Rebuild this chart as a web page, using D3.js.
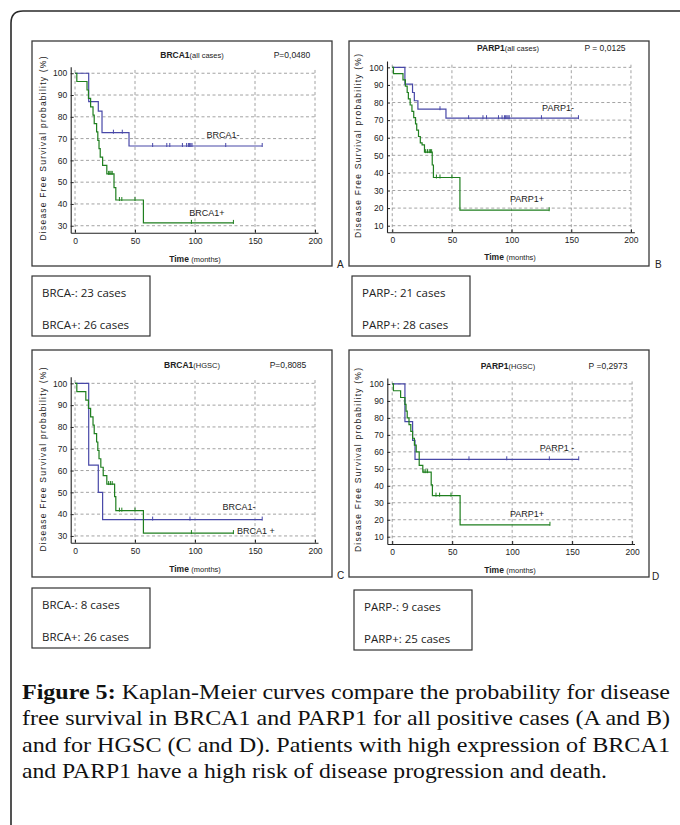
<!DOCTYPE html>
<meta charset="utf-8">
<script src="https://d3js.org/d3.v7.min.js"></script>
<style>
  body { margin: 0; background: #fff; }
  .narrow { font-family: "Liberation Sans Narrow", "Arial Narrow", "Liberation Sans", Arial, sans-serif; font-stretch: condensed; }
</style>
<div id="fig"></div>
<script>

// ---- data: [months, % disease free] at each step ----
// A: BRCA1 (all cases)
var brcaAllNeg = [[0,100],[11.4,87],[19.4,82.6],[22.5,72.7],[45,66.6],[156,66.6]];
var brcaAllNegCens = [32, 39.4, 64.7, 76.5, 79, 89.5, 93, 94.5, 95.5, 96.5, 97.5, 125.6, 156];
var brcaAllPos = [[0,100],[1.5,96.2],[10,92.3],[11.2,88.5],[13,84.6],[15,80.8],[16,76.9],[18,73.1],[19,69.2],[20,65.4],[21,61.5],[23,57.7],[26.5,53.8],[32.5,47.5],[34,41.8],[57,31.3],[132,31.3]];
var brcaAllPosCens = [28, 29, 30, 31, 37, 39, 50, 97, 132];
// B: PARP1 (all cases)
var parpAllNeg = [[0,100],[10.6,90.5],[17,85.7],[18.5,81],[21.5,76.2],[45,71.1],[156,71.1]];
var parpAllNegCens = [40, 64, 76, 79, 89, 92, 94, 95, 96, 97, 98, 125, 156];
var parpAllPos = [[0,100],[1,96.4],[9,92.9],[11,89.3],[12.5,85.7],[13.5,82.1],[15,78.6],[16.5,75],[18,71.4],[19.5,67.9],[20.5,64.3],[22,60.7],[23.5,57.1],[25,55.9],[27,51.8],[33.5,44.5],[34.5,37.4],[56.7,18.8],[131.5,18.8]];
var parpAllPosCens = [28, 29.5, 31, 32, 33, 37, 40, 50, 131.5];
// C: BRCA1 (HGSC)
var brcaHgNeg = [[0,100],[11.4,62.5],[19.4,50],[23,37.5],[156,37.5]];
var brcaHgNegCens = [64.7, 95.8, 156];
var brcaHgPos = [[0,100],[1.5,96.2],[9,92.3],[11.2,88.5],[13,84.6],[15,80.8],[16,76.9],[18,73.1],[19,69.2],[20,65.4],[21.5,61.5],[23.5,57.7],[26.5,53.8],[33,48],[34,41.6],[57,31.3],[132,31.3]];
var brcaHgPosCens = [28, 29.5, 31, 37, 39, 50, 97, 132];
// D: PARP1 (HGSC)
var parpHgNeg = [[0,100],[10.6,77.8],[17,66.7],[19,55.6],[155.5,55.6]];
var parpHgNegCens = [64, 95.5, 131, 155.5];
var parpHgPos = [[0,100],[1,96],[7,92],[10.6,88],[11.5,84],[12.5,80],[14,76],[15.5,72],[17,68],[18.5,64],[20,60],[22.5,52],[25.5,48],[32.5,40.5],[33.5,34.2],[56.6,17],[131.5,17]];
var parpHgPosCens = [26.5, 28, 29.5, 36.5, 39.5, 49, 131.5];

var xTicks = [0, 50, 100, 150, 200];
var yTicksAB = [30, 40, 50, 60, 70, 80, 90, 100];
var yTicksCD = [10, 20, 30, 40, 50, 60, 70, 80, 90, 100];

var legendA = ["BRCA-: 23 cases", "BRCA+: 26 cases"];
var legendB = ["PARP-: 21 cases", "PARP+: 28 cases"];
var legendC = ["BRCA-: 8 cases", "BRCA+: 26 cases"];
var legendD = ["PARP-: 9 cases", "PARP+: 25 cases"];

var caption = [
  " Kaplan-Meier curves compare the probability for disease",
  "free survival in BRCA1 and PARP1 for all positive cases (A and B)",
  "and for HGSC (C and D). Patients with high expression of BRCA1",
  "and PARP1 have a high risk of disease progression and death."
];
var captionWidths = [648, 648, 648, 585];

var blue = "#4848a8", green = "#1f7f1f";

// ---- layout ----
var panels = [
  {box:[32,41,300,225], xd:[-3.6,202.5], xr:[70.7,318], yd:[26.8,103], yr:[232.7,66.7], yt:yTicksAB,
   title:["BRCA1","(all cases)"], tx:192, ty:58, p:"P=0,0480", px:292,
   neg:brcaAllNeg, negC:brcaAllNegCens, pos:brcaAllPos, posC:brcaAllPosCens,
   negL:["BRCA1-",223,138], posL:["BRCA1+",207,216], letter:["A",337,268],
   ylab:[43,148.5], xlab:[195,262], legend:legendA, lbox:[32,276]},
  {box:[349,41,300,225], xd:[-4.4,202.8], xr:[387,634.3], yd:[6.25,103.6], yr:[232.3,61], yt:yTicksCD,
   title:["PARP1","(all cases)"], tx:508, ty:51, p:"P = 0,0125", px:605,
   neg:parpAllNeg, negC:parpAllNegCens, pos:parpAllPos, posC:parpAllPosCens,
   negL:["PARP1-",558,111], posL:["PARP1+",527,202], letter:["B",655,268],
   ylab:[358,146], xlab:[510,260], legend:legendB, lbox:[352,276]},
  {box:[32,350,300,227], xd:[-3.6,202.5], xr:[70.7,318], yd:[26.9,103], yr:[542.7,376.8], yt:yTicksAB,
   title:["BRCA1","(HGSC)"], tx:192, ty:368, p:"P=0,8085", px:288,
   neg:brcaHgNeg, negC:brcaHgNegCens, pos:brcaHgPos, posC:brcaHgPosCens,
   negL:["BRCA1-",239,510], posL:["BRCA1 +",256,534], letter:["C",337,579],
   ylab:[43,459.5], xlab:[195,572], legend:legendC, lbox:[32,588]},
  {box:[349,350,300,227], xd:[-4.1,202], xr:[387.3,634.5], yd:[5.7,103.5], yr:[544,378], yt:yTicksCD,
   title:["PARP1","(HGSC)"], tx:508, ty:369, p:"P =0,2973", px:608,
   neg:parpHgNeg, negC:parpHgNegCens, pos:parpHgPos, posC:parpHgPosCens,
   negL:["PARP1 -",557,451], posL:["PARP1+",527,517], letter:["D",652,580],
   ylab:[358,460], xlab:[510,573], legend:legendD, lbox:[354,590]}
];

var svg = d3.select("#fig").append("svg")
    .attr("width", 680)
    .attr("height", 825);

// outer frame (only the top-left corner shows)
svg.append("path")
  .attr("d", "M11,825 L11,23 Q11,11 23,11 L680,11")
  .attr("fill", "none")
  .attr("stroke", "#2a2a2a")
  .attr("stroke-width", 1.6);

function valueAt(steps, t) {
  var v = steps[0][1];
  steps.forEach(function(d) { if (d[0] <= t) v = d[1]; });
  return v;
}

panels.forEach(function(P) {
  var g = svg.append("g");
  var x = d3.scaleLinear().domain(P.xd).range(P.xr);
  var y = d3.scaleLinear().domain(P.yd).range(P.yr);

  // panel box
  g.append("rect")
    .attr("x", P.box[0]).attr("y", P.box[1])
    .attr("width", P.box[2]).attr("height", P.box[3])
    .attr("fill", "none").attr("stroke", "#3a3a3a").attr("stroke-width", 1.3);

  // grid
  g.selectAll(".hg").data(P.yt).enter().append("line")
    .attr("x1", x(0)).attr("x2", x(200))
    .attr("y1", function(d) { return y(d); }).attr("y2", function(d) { return y(d); })
    .attr("stroke", "#8c8c8c").attr("stroke-width", 0.8).attr("stroke-dasharray", "3,2.5");
  g.selectAll(".vg").data(xTicks).enter().append("line")
    .attr("x1", function(d) { return x(d); }).attr("x2", function(d) { return x(d); })
    .attr("y1", y(101.5)).attr("y2", y(P.yd[0]))
    .attr("stroke", "#8c8c8c").attr("stroke-width", 0.8).attr("stroke-dasharray", "3,2.5");

  // axes
  var xa = g.append("g")
    .attr("transform", "translate(0," + y(P.yd[0]) + ")")
    .call(d3.axisBottom(x).tickValues(xTicks).tickSize(-3).tickPadding(5).tickSizeOuter(0));
  var ya = g.append("g")
    .attr("transform", "translate(" + x(P.xd[0]) + ",0)")
    .call(d3.axisLeft(y).tickValues(P.yt).tickSize(-3).tickPadding(3.5).tickSizeOuter(0));
  [xa, ya].forEach(function(a) {
    a.select(".domain").attr("stroke", "#222").attr("stroke-width", 1.1);
    a.selectAll(".tick line").attr("stroke", "#222");
    a.selectAll("text").attr("class", "narrow").attr("font-size", 8.5).attr("fill", "#222");
  });

  // curves
  var line = d3.line()
    .x(function(d) { return x(d[0]); })
    .y(function(d) { return y(d[1]); })
    .curve(d3.curveStepAfter);

  [[P.neg, P.negC, blue], [P.pos, P.posC, green]].forEach(function(s) {
    g.append("path")
      .datum(s[0])
      .attr("fill", "none")
      .attr("stroke", s[2])
      .attr("stroke-width", 1.2)
      .attr("d", line);
    g.selectAll(null).data(s[1]).enter().append("line")
      .attr("x1", function(d) { return x(d); }).attr("x2", function(d) { return x(d); })
      .attr("y1", function(d) { return y(valueAt(s[0], d)) - 3; })
      .attr("y2", function(d) { return y(valueAt(s[0], d)) + 1; })
      .attr("stroke", s[2]).attr("stroke-width", 1);
  });

  // curve labels
  [P.negL, P.posL].forEach(function(L) {
    g.append("text").attr("class", "narrow")
      .attr("x", L[1]).attr("y", L[2]).attr("text-anchor", "middle")
      .attr("font-size", 9).attr("fill", "#222").text(L[0]);
  });

  // title + p value
  var t = g.append("text").attr("class", "narrow")
    .attr("x", P.tx).attr("y", P.ty).attr("text-anchor", "middle")
    .attr("font-size", 8.5).attr("fill", "#222");
  t.append("tspan").attr("font-weight", "bold").text(P.title[0]);
  t.append("tspan").attr("font-size", 7.5).text(P.title[1]);
  g.append("text").attr("class", "narrow")
    .attr("x", P.px).attr("y", P.ty).attr("text-anchor", "middle")
    .attr("font-size", 8.5).attr("fill", "#222").text(P.p);

  // axis titles
  g.append("text")
    .attr("transform", "translate(" + P.ylab[0] + "," + P.ylab[1] + ") rotate(-90)")
    .attr("text-anchor", "middle").attr("dy", "0.35em")
    .attr("font-family", "Liberation Sans, Arial, sans-serif")
    .attr("font-size", 8.5).attr("fill", "#222")
    .attr("textLength", 184).attr("lengthAdjust", "spacing")
    .text("Disease Free Survival probability (%)");
  var xl = g.append("text").attr("class", "narrow")
    .attr("x", P.xlab[0]).attr("y", P.xlab[1]).attr("text-anchor", "middle")
    .attr("font-size", 8.5).attr("fill", "#222");
  xl.append("tspan").attr("font-weight", "bold").text("Time ");
  xl.append("tspan").attr("font-size", 7.5).text("(months)");

  // panel letter
  g.append("text")
    .attr("x", P.letter[1]).attr("y", P.letter[2])
    .attr("font-family", "Liberation Sans, Arial, sans-serif")
    .attr("font-size", 10).attr("fill", "#222").text(P.letter[0]);

  // case-count box
  svg.append("rect")
    .attr("x", P.lbox[0]).attr("y", P.lbox[1])
    .attr("width", 118).attr("height", 60)
    .attr("fill", "none").attr("stroke", "#333").attr("stroke-width", 1.2);
  P.legend.forEach(function(s, i) {
    svg.append("text")
      .attr("x", P.lbox[0] + 10).attr("y", P.lbox[1] + 21 + i * 32)
      .attr("font-family", "Open Sans, sans-serif")
      .attr("font-size", 11.5).attr("fill", "#222").text(s);
  });
});

// caption
var cap = svg.append("g")
  .attr("font-family", "Liberation Serif, serif")
  .attr("font-size", 21)
  .attr("fill", "#111");
caption.forEach(function(s, i) {
  var t = cap.append("text").attr("x", 22).attr("y", 699 + i * 26.3)
    .attr("textLength", captionWidths[i]).attr("lengthAdjust", "spacingAndGlyphs");
  if (i === 0) t.append("tspan").attr("font-weight", "bold").text("Figure 5:");
  t.append("tspan").text(s);
});

</script>
